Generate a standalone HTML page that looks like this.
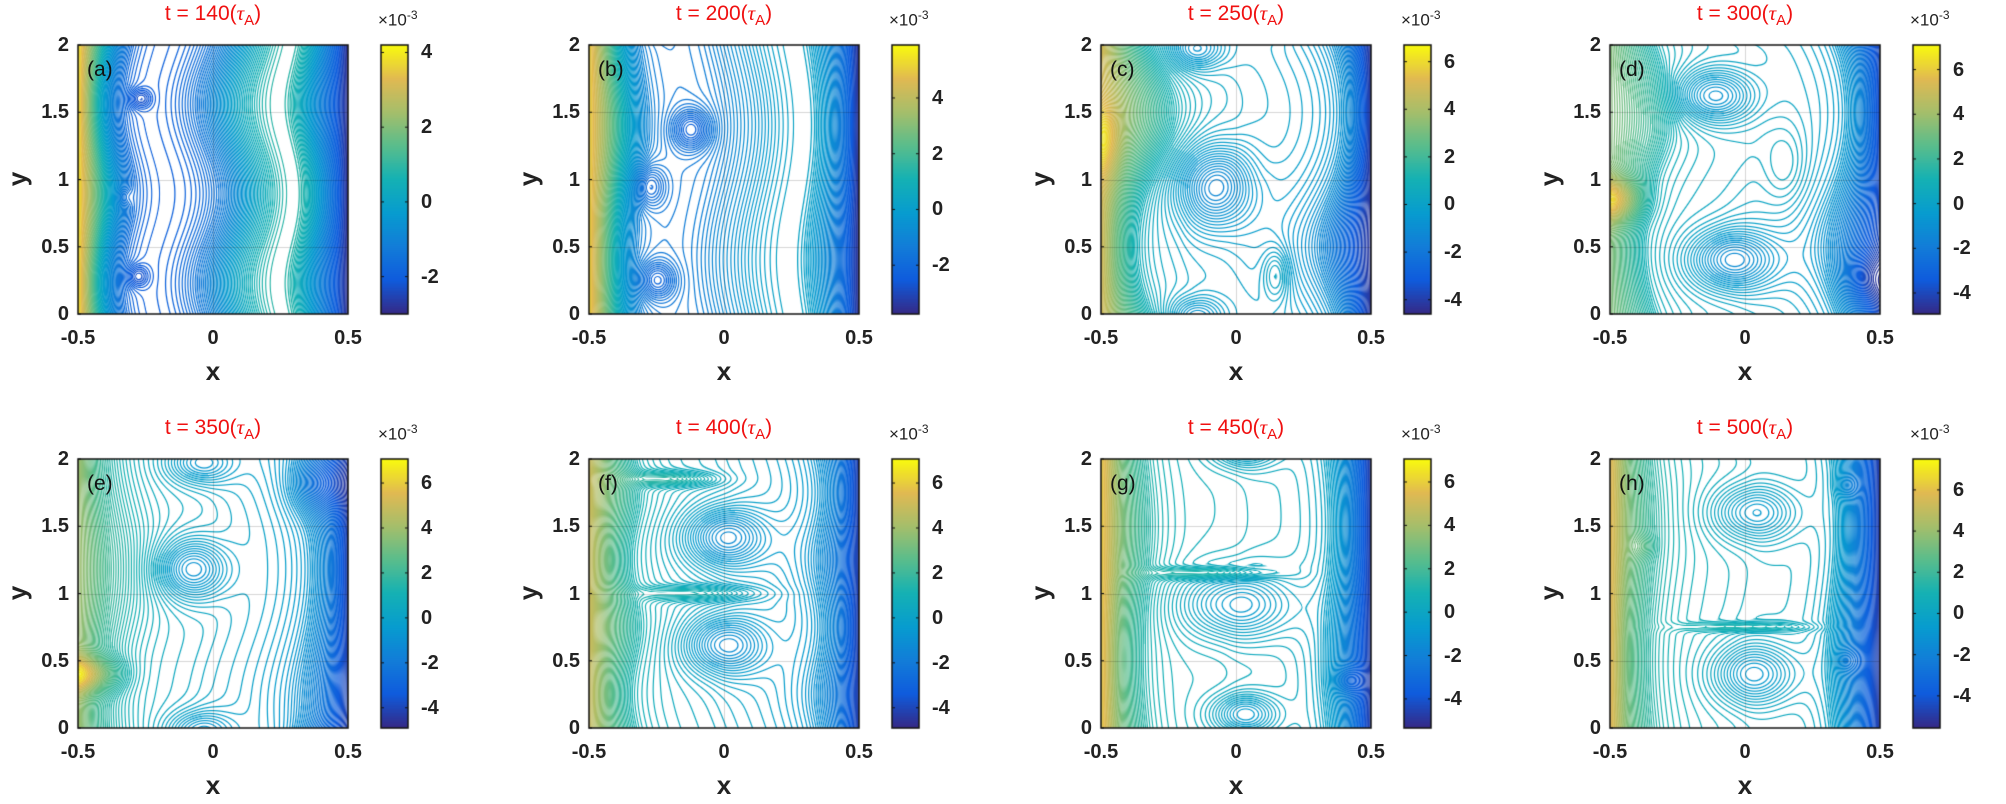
<!DOCTYPE html>
<html><head><meta charset="utf-8">
<style>
html,body{margin:0;padding:0;background:#fff;}
#wrap{position:relative;width:2006px;height:804px;overflow:hidden;font-family:"Liberation Sans",Arial,sans-serif;}
canvas{position:absolute;left:0;top:0;}
.t{position:absolute;white-space:nowrap;line-height:1;}
.tk{font-weight:bold;font-size:20px;color:#222;}
.ttl{color:#f01010;font-size:21px;transform:translateX(-50%);}
.lab{font-weight:bold;font-size:26px;color:#222;}
.pl{font-size:21px;color:#111;}
.ex{font-size:17px;color:#222;}
</style></head><body>
<div id="wrap"><canvas id="c" width="2006" height="804"></canvas></div>
<script>
const cols=[78,589,1101,1610], rows=[45,459], W=270, H=269;
const P=[
{r:[-3,4.2],cb:[4,2,0,-2],t:"140",f:[[-0.5,3.9],[-0.45,2.0],[-0.38,-0.5],[-0.3,-1.7],[-0.15,-1.9],[0,-1.2],[0.15,0.3],[0.25,0.9],[0.32,0.7],[0.4,-0.8],[0.5,-2.9]],w:[[0.04,Math.PI*1.5,0.5]],v:[[-0.27,1.6,-0.4,0.04,0.07],[-0.28,0.28,-0.4,0.04,0.08],[-0.33,0.87,-0.3,0.03,0.07]]},
{r:[-3.75,5.9],cb:[4,2,0,-2],t:"200",f:[[-0.5,5.2],[-0.44,3],[-0.36,0],[-0.28,-1.2],[-0.1,-1.3],[0.05,-0.6],[0.2,0.2],[0.3,0.3],[0.38,-0.6],[0.45,-2],[0.5,-3.6]],w:[[0.04,Math.PI,0.3]],v:[[-0.12,1.37,-0.9,0.07,0.15],[-0.28,0.95,-0.8,0.06,0.16],[-0.25,0.25,-0.8,0.07,0.14]]},
{r:[-4.6,6.7],cb:[6,4,2,0,-2,-4],t:"250",f:[[-0.5,5.0],[-0.4,2.5],[-0.3,0.8],[-0.1,0.2],[0.1,0],[0.3,-0.5],[0.4,-1.5],[0.5,-4.3]],w:[[0.12,Math.PI,0]],v:[[-0.08,0.95,-1.5,0.14,0.3],[-0.15,1.97,-1.0,0.1,0.15],[0.15,0.3,0.6,0.05,0.2],[-0.5,1.3,1.5,0.06,0.25]]},
{r:[-4.94,7.1],cb:[6,4,2,0,-2,-4],t:"300",f:[[-0.5,3.5],[-0.4,2],[-0.3,0.8],[0,0.3],[0.3,-0.3],[0.4,-1.5],[0.5,-4]],w:[[0.1,Math.PI,0]],v:[[-0.12,1.62,-1.4,0.15,0.2],[-0.05,0.4,-1.5,0.16,0.22],[-0.5,0.85,3,0.1,0.15],[0.45,0.25,-1.0,0.08,0.2],[0.15,1.1,0.4,0.08,0.3]]},
{r:[-4.9,7.07],cb:[6,4,2,0,-2,-4],t:"350",f:[[-0.5,4],[-0.4,2],[-0.25,0.8],[0,0.3],[0.3,-0.5],[0.42,-2],[0.5,-4.2]],w:[[0.06,Math.PI,1]],v:[[-0.08,1.18,-1.4,0.13,0.22],[-0.05,1.97,-1.0,0.12,0.15],[-0.5,0.4,3,0.12,0.12],[0.4,1.8,-1.2,0.1,0.2]]},
{r:[-4.9,7.07],cb:[6,4,2,0,-2,-4],t:"400",f:[[-0.5,5],[-0.4,2.5],[-0.3,1],[0,0.3],[0.3,-0.5],[0.42,-2],[0.5,-4.3]],w:[[0.03,Math.PI*2,0]],v:[[0,1.42,-1.5,0.15,0.22],[0,0.62,-1.5,0.15,0.22],[-0.2,1.85,1.0,0.15,0.05],[-0.1,1.0,0.8,0.2,0.05]]},
{r:[-5.34,7.06],cb:[6,4,2,0,-2,-4],t:"450",f:[[-0.5,6],[-0.42,3],[-0.3,1],[0,0.5],[0.3,0],[0.4,-1.5],[0.5,-4.8]],w:[[0.03,Math.PI,0]],v:[[0,0.92,-1.3,0.2,0.25],[0.03,0.1,-1.2,0.12,0.15],[-0.1,1.15,1.0,0.2,0.04],[0.42,0.35,-0.8,0.05,0.1]]},
{r:[-5.56,7.5],cb:[6,4,2,0,-2,-4],t:"500",f:[[-0.5,6],[-0.42,3],[-0.3,1.2],[0,0.5],[0.3,0],[0.4,-2],[0.5,-5]],w:[[0.03,Math.PI,0]],v:[[0.03,1.6,-1.2,0.15,0.2],[0.03,0.4,-1.3,0.15,0.22],[0,0.75,0.8,0.2,0.03],[-0.38,1.35,0.5,0.04,0.08],[0.38,1.8,-0.5,0.04,0.08],[0.38,0.5,-0.5,0.04,0.08]]}
];
const PAR=[[0,53,42,135],[0.125,15,92,221],[0.25,18,125,216],[0.375,7,156,207],[0.5,21,177,180],[0.625,89,189,140],[0.75,165,190,107],[0.875,225,185,82],[1,249,251,14]];
function par(t){t=Math.max(0,Math.min(1,t));for(let i=1;i<PAR.length;i++){if(t<=PAR[i][0]){const a=PAR[i-1],b=PAR[i],u=(t-a[0])/(b[0]-a[0]);return [a[1]+(b[1]-a[1])*u,a[2]+(b[2]-a[2])*u,a[3]+(b[3]-a[3])*u];}}return [249,251,14];}
function mkF(pts){const n=pts.length,m=[];for(let i=0;i<n;i++){const a=pts[Math.max(0,i-1)],b=pts[Math.min(n-1,i+1)];m.push((b[1]-a[1])/(b[0]-a[0]));}
return x=>{if(x<=pts[0][0])return pts[0][1]+m[0]*(x-pts[0][0]);if(x>=pts[n-1][0])return pts[n-1][1]+m[n-1]*(x-pts[n-1][0]);
let i=0;while(x>pts[i+1][0])i++;const h=pts[i+1][0]-pts[i][0],t=(x-pts[i][0])/h,t2=t*t,t3=t2*t;
return (2*t3-3*t2+1)*pts[i][1]+(t3-2*t2+t)*h*m[i]+(-2*t3+3*t2)*pts[i+1][1]+(t3-t2)*h*m[i+1];};}
const cv=document.getElementById('c'),ctx=cv.getContext('2d');
ctx.fillStyle='#fff';ctx.fillRect(0,0,2006,804);
const img=ctx.getImageData(0,0,2006,804),D=img.data;
const wrap=document.getElementById('wrap');
function txt(cls,html,x,y,st){const d=document.createElement('div');d.className='t '+cls;d.innerHTML=html;d.style.left=x+'px';d.style.top=y+'px';if(st)d.style.cssText+=st;wrap.appendChild(d);return d;}
const labels="abcdefgh";
P.forEach((p,k)=>{
 const L=cols[k%4],T=rows[k>>2];const F=mkF(p.f);const lo=p.r[0],hi=p.r[1];const dl=(hi-lo)/130;
 const psi=(x,y)=>{let xs=x;for(const w of p.w)xs+=w[0]*Math.sin(w[1]*y+w[2])*(1-4*x*x);let s=F(xs);
  for(const v of p.v){for(const o of [-2,0,2]){const dx=(x-v[0])/v[3],dy=(y-v[1]-o)/v[4];s+=v[2]*Math.exp(-dx*dx-dy*dy);}}return s;};
 for(let py=0;py<H;py++)for(let px=0;px<W;px++){
  const x=-0.5+(px+0.5)/W,y=2-(py+0.5)/H*2;const v=psi(x,y);
  const vx=psi(x+1/W,y)-v,vy=psi(x,y-2/H)-v;const g=Math.sqrt(vx*vx+vy*vy)/dl+1e-9;
  const q=v/dl,d=Math.abs(q-Math.round(q))/g;let a=Math.max(0,Math.min(1,1.1-d));
  if(g>0.45)a=Math.max(a,Math.min(0.9,0.45+0.5*(g-0.45)));
  if(a<=0)continue;const c=par((v-lo)/(hi-lo));const i=((T+py)*2006+L+px)*4;
  D[i]=255+(c[0]-255)*a;D[i+1]=255+(c[1]-255)*a;D[i+2]=255+(c[2]-255)*a;}
 const CL=L+303;
 for(let py=0;py<H;py++){const c=par(1-py/(H-1));for(let px=0;px<27;px++){const i=((T+py)*2006+CL+px)*4;D[i]=c[0];D[i+1]=c[1];D[i+2]=c[2];}}
});
ctx.putImageData(img,0,0);
P.forEach((p,k)=>{
 const L=cols[k%4],T=rows[k>>2];
 ctx.strokeStyle='rgba(0,0,0,0.16)';ctx.lineWidth=1;ctx.beginPath();
 for(const yy of [0.5,1,1.5]){const Y=Math.round(T+H-yy/2*H)+0.5;ctx.moveTo(L,Y);ctx.lineTo(L+W,Y);}
 ctx.moveTo(L+W/2+0.5,T);ctx.lineTo(L+W/2+0.5,T+H);ctx.stroke();
 ctx.strokeStyle='#111';ctx.lineWidth=1.5;ctx.strokeRect(L,T,W,H);ctx.strokeRect(L+303,T,27,H);
 ctx.lineWidth=1;ctx.beginPath();
 for(const yy of [0,0.5,1,1.5,2]){const Y=T+H-yy/2*H;ctx.moveTo(L,Y);ctx.lineTo(L+3,Y);}
 ctx.stroke();
 for(const yy of [[0,"0"],[0.5,"0.5"],[1,"1"],[1.5,"1.5"],[2,"2"]]){const Y=T+H-yy[0]/2*H;const d=txt('tk',yy[1],0,Y-10);d.style.left='auto';d.style.right=(2006-(L-9))+'px';}
 for(const xx of [[-0.5,"-0.5"],[0,"0"],[0.5,"0.5"]]){const X=L+(xx[0]+0.5)*W;txt('tk',xx[1],X,T+H+14,'transform:translateX(-50%)');}
 txt('lab','x',L+W/2,T+H+44,'transform:translateX(-50%)');
 txt('lab','y',L-68,T+H/2-14,'transform:rotate(-90deg)');
 txt('pl','('+labels[k]+')',L+9,T+14);
 txt('ttl','t = '+p.t+'(<i style="font-family:\'Liberation Serif\',serif">τ</i><sub style="font-size:15px">A</sub>)',L+W/2,T-42);
 const lo=p.r[0],hi=p.r[1];
 for(const c of p.cb){const Y=T+(hi-c)/(hi-lo)*H;txt('tk',String(c),L+343,Y-10);
  ctx.beginPath();ctx.moveTo(L+303,Y);ctx.lineTo(L+306,Y);ctx.moveTo(L+330,Y);ctx.lineTo(L+327,Y);ctx.stroke();}
 txt('ex','×10<sup style="font-size:12px">-3</sup>',L+300,T-36);
});
</script>
</body></html>
